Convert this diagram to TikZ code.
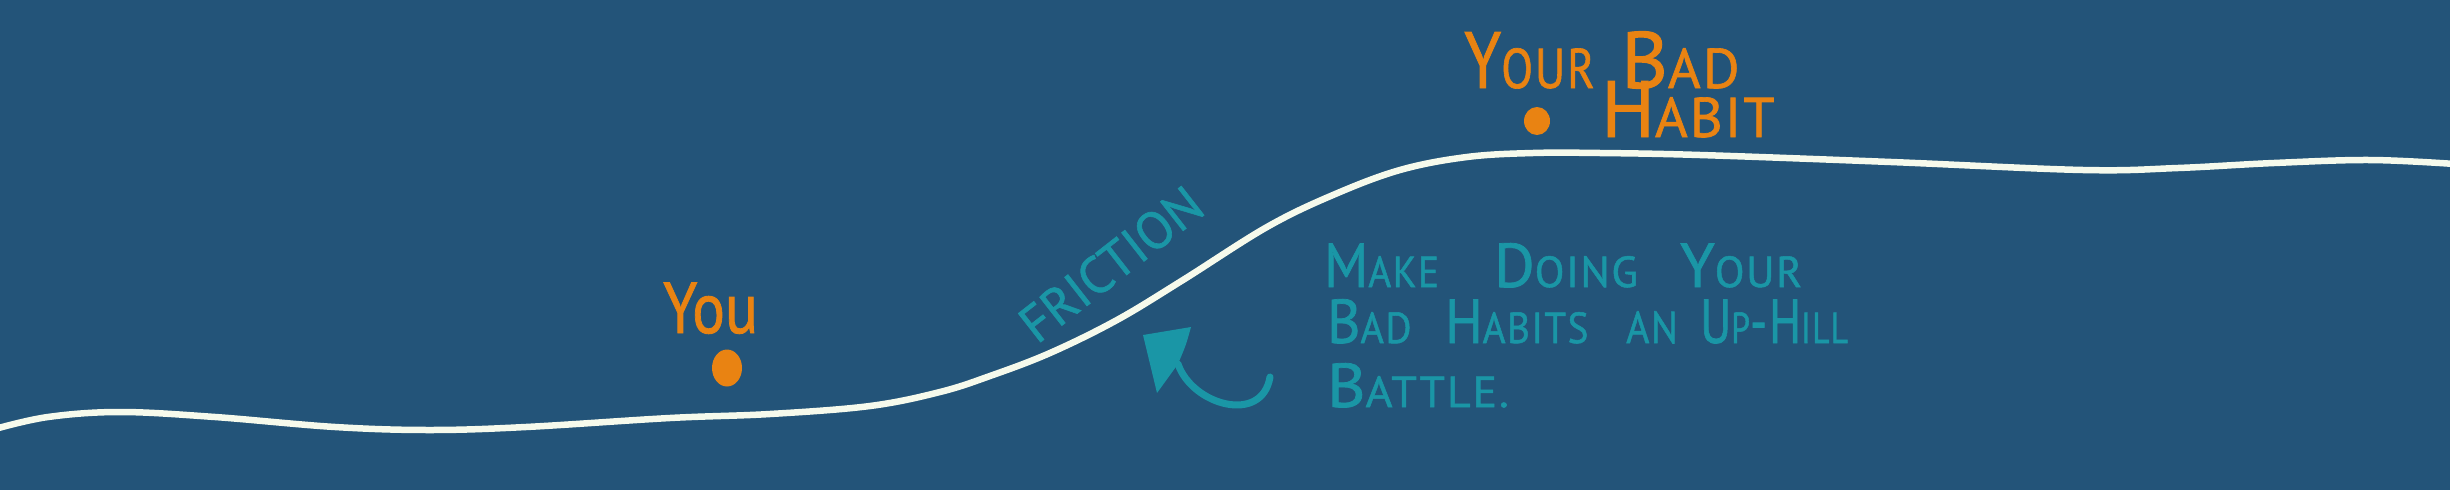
\documentclass[tikz,border=0pt]{standalone}
\usepackage{fontspec}
\setmainfont{PT Sans}
\newfontfamily\hand[LetterSpace=4,FakeBold=1.2]{PT Sans}
\newfontfamily\handu[FakeBold=1.2]{PT Sans}
\definecolor{bg}{RGB}{35,84,121}
\definecolor{org}{RGB}{233,131,18}
\definecolor{tl}{RGB}{26,150,166}
\definecolor{ln}{RGB}{246,250,236}
\newcommand\hsc[2]{#1\scalebox{0.7}{#2}}
\tikzset{
  curve/.style={draw=ln, line width=6.5pt, line cap=round},
  orgtext/.style={text=org, inner sep=0pt, anchor=base west, font=\hand\fontsize{80}{82}\selectfont},
  tltext/.style={text=tl, inner sep=0pt, anchor=base west, font=\hand\fontsize{62}{64}\selectfont},
  dotnode/.style={fill=org, ellipse, inner sep=0pt},
  stem/.style={draw=tl, line width=7pt, line cap=round},
}
\usetikzlibrary{shapes.geometric}
\begin{document}
\begin{tikzpicture}[x=1pt,y=-1pt]
\fill[bg] (0,0) rectangle (2450,490);
\useasboundingbox (0,0) rectangle (2450,490);
% hill curve
\draw[curve] plot[smooth, tension=0.6] coordinates {(-5,429) (48,417) (120,412) (215,417) (335,427) (430,430) (526,427) (670,418) (770,414) (870,406) (940,392) (990,376) (1050,353) (1117,320) (1183,280) (1267,227) (1333,195) (1400,170) (1467,157) (1533,153) (1600,153) (1700,155) (1891,162) (2083,170) (2178,168) (2274,163) (2370,160) (2455,164)};
% you
\node[orgtext, font=\handu\fontsize{72}{74}\selectfont] (you) at (663,333) {\scalebox{0.85}[1]{You}};
\node[dotnode, minimum width=30pt, minimum height=37pt] (youdot) at (727,368) {};
% bad habit
\node[orgtext] (your) at (1464,88) {\scalebox{0.83}[1]{\hsc{Y}{OUR}}};
\node[orgtext] (bad) at (1621,88) {\hsc{B}{AD}};
\node[orgtext] (habit) at (1601,137) {\hsc{H}{ABIT}};
\node[dotnode, minimum width=26pt, minimum height=28pt] (habitdot) at (1537,121) {};
% friction
\node[tltext, rotate=38, font=\handu\fontsize{52}{54}\selectfont] (friction) at (1037,345) {FRICTION};
% arrow
\coordinate (tip) at (1143,335);
\coordinate (barbA) at (1191,327);
\coordinate (barbB) at (1157,393);
\coordinate (back) at (1178,364);
\coordinate (tail) at (1270,377);
\fill[tl] (tip) -- (barbA) .. controls (1186,345) .. (back) -- (barbB) -- cycle;
\draw[stem] (tail) .. controls (1262,425) and (1192,405) .. (back);
% message
\node[tltext] (make) at (1324,287) {\scalebox{0.9}[1]{\hsc{M}{AKE}}};
\node[tltext] (doing) at (1494,287) {\hsc{D}{OING}};
\node[tltext] (your2) at (1680,287) {\hsc{Y}{OUR}};
\node[tltext] (bad2) at (1327,343) {\scalebox{0.92}[1]{\hsc{B}{AD}}};
\node[tltext] (habits) at (1445,343) {\scalebox{0.9}[1]{\hsc{H}{ABITS}}};
\node[tltext] (an) at (1626,343) {\scalebox{0.64}[0.72]{AN}};
\node[tltext] (uphill) at (1700,343) {\scalebox{0.77}[1]{\hsc{U}{P}-\hsc{H}{ILL}}};
\node[tltext] (battle) at (1327,407) {\scalebox{1.06}[1]{\hsc{B}{ATTLE.}}};
\end{tikzpicture}
\end{document}
